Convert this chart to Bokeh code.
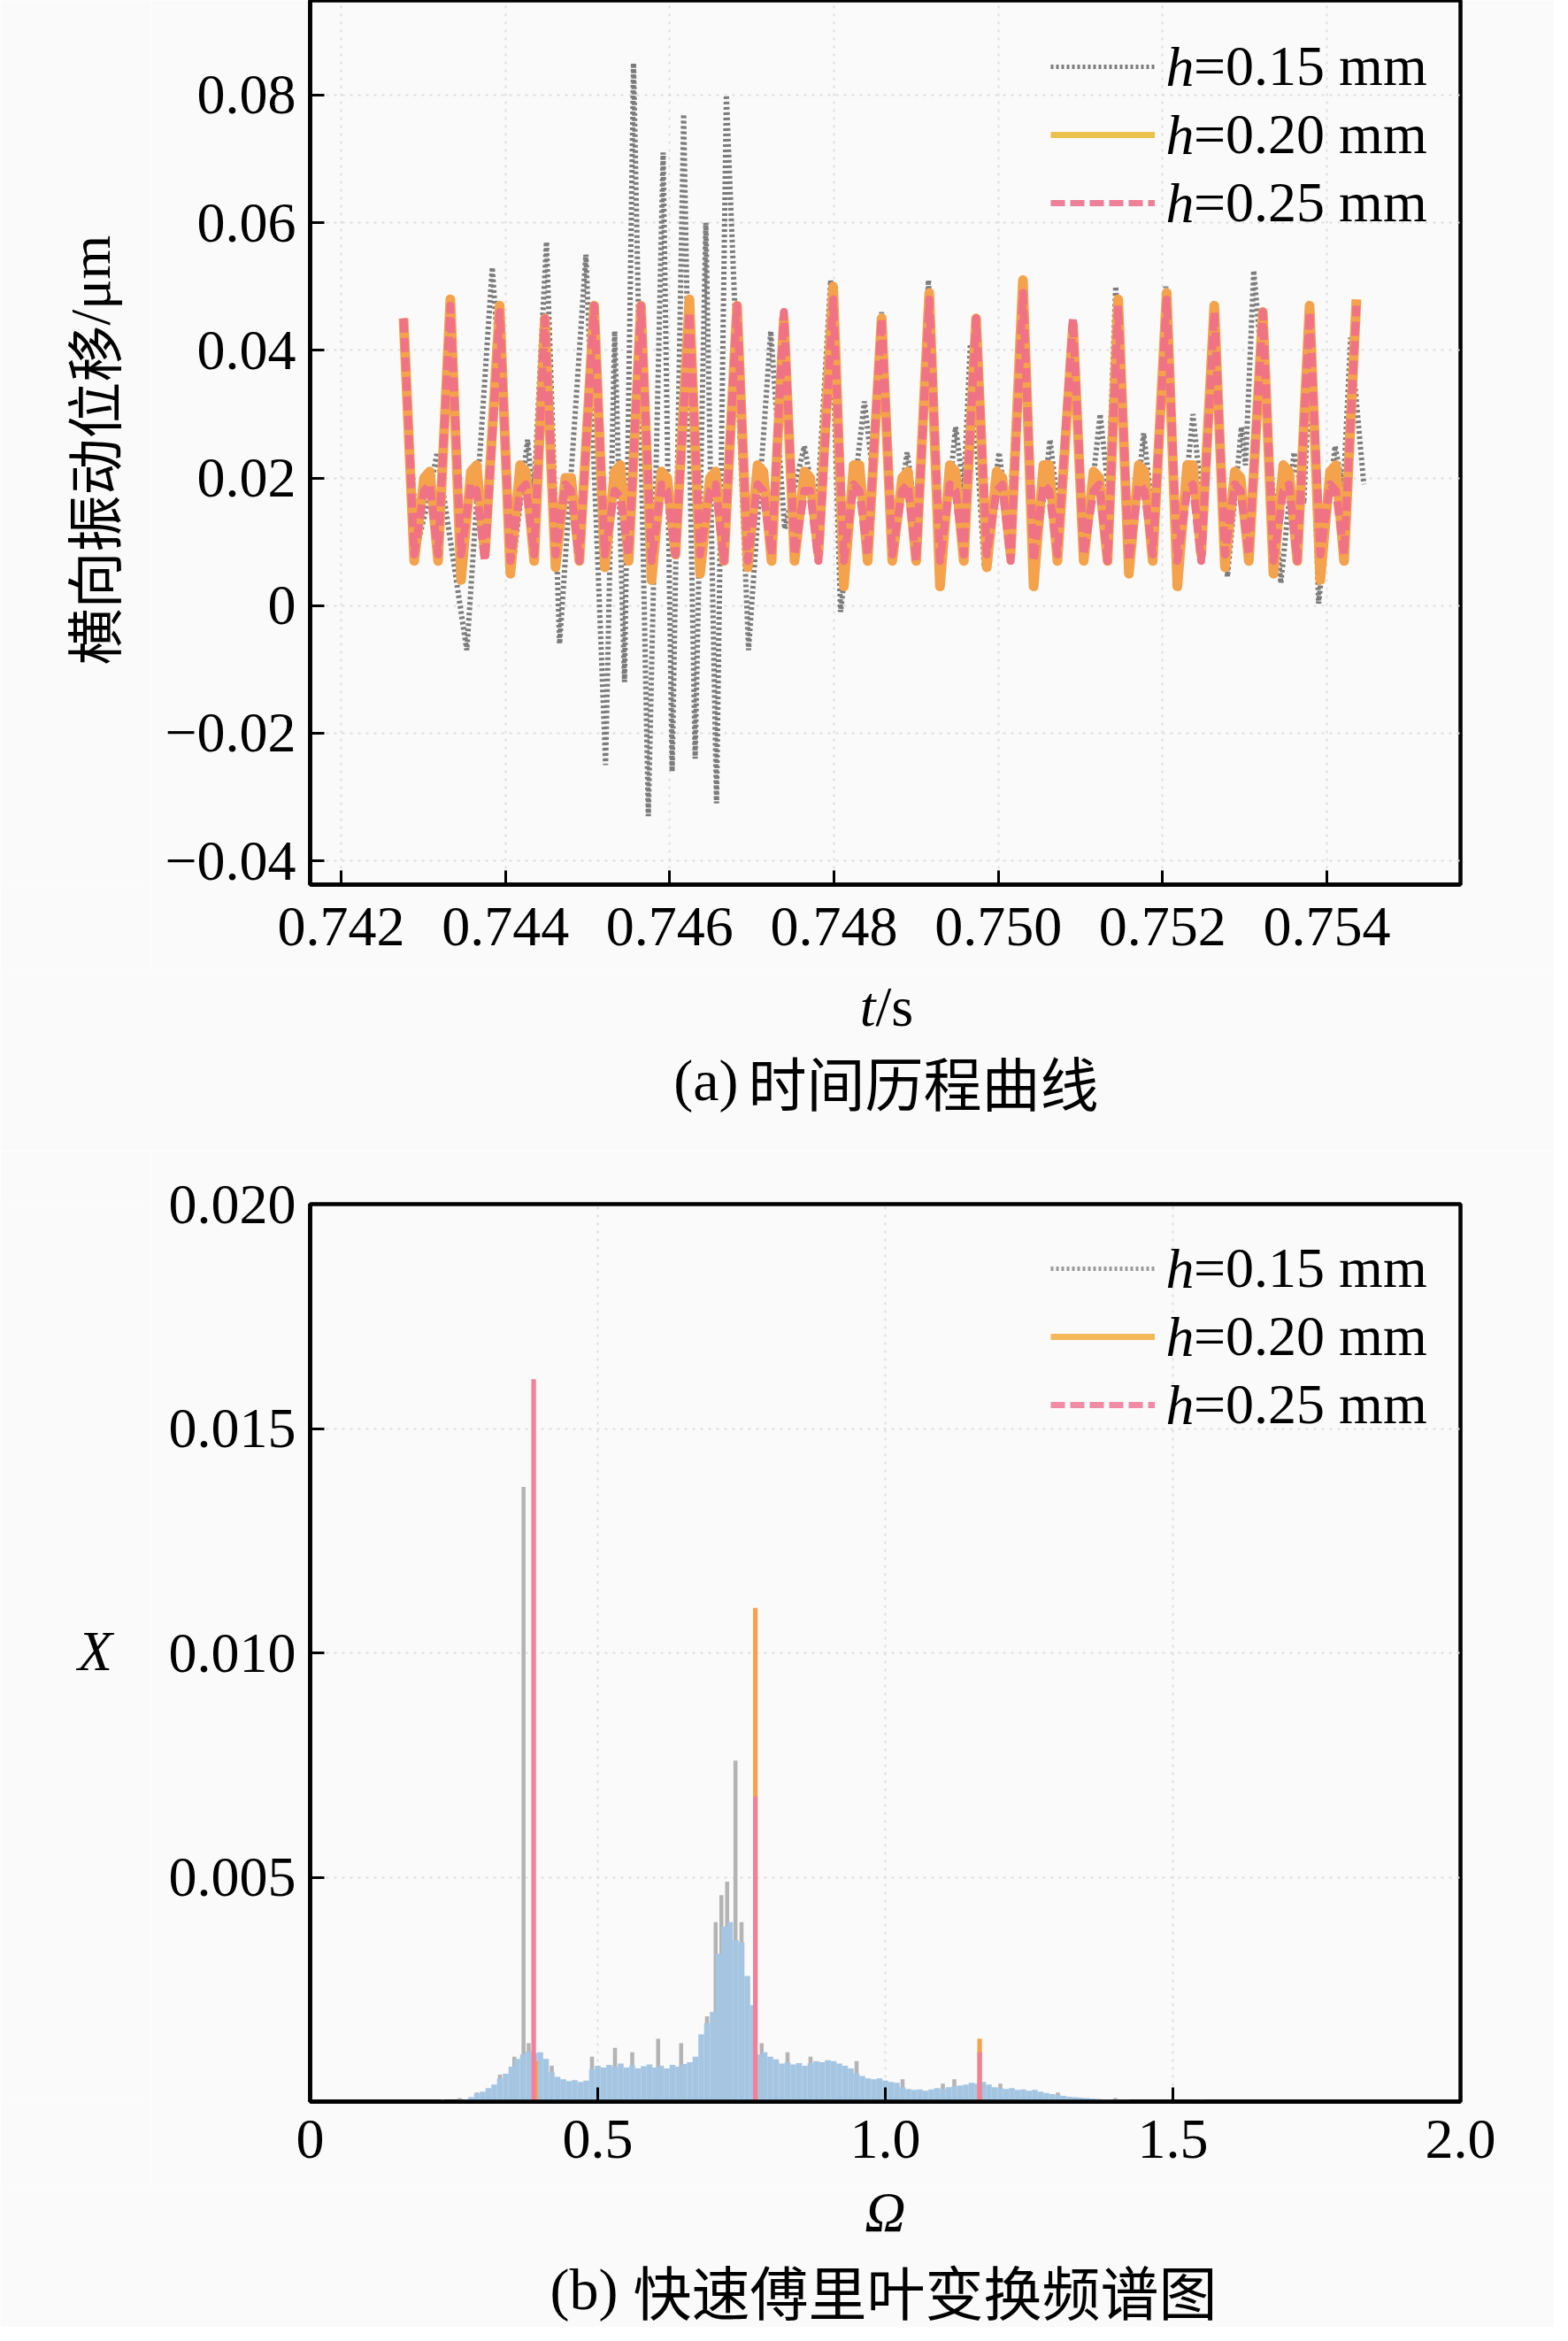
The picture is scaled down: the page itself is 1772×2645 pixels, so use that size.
from math import pi
from bokeh.plotting import figure
from bokeh.models import (Range1d, FixedTicker, Legend, LegendItem, Label,
                          CustomJSTickFormatter)
from bokeh.layouts import column, row
from bokeh.embed import file_html
from bokeh.resources import INLINE

SERIF = "Liberation Serif"
CJK = "Noto Sans CJK SC"
BG = "#fafafa"
NAN = float("nan")

# ---------------- (a) time history ----------------
t_a = [
    0.74276, 0.74289, 0.74301, 0.74308, 0.74318,
    0.74333, 0.74346, 0.74358, 0.74365, 0.74375,
    0.74393, 0.74406, 0.74418, 0.74425, 0.74435,
    0.74448, 0.74461, 0.74473, 0.74480, 0.74490,
    0.74508, 0.74521, 0.74533, 0.74540, 0.74550,
    0.74565, 0.74578, 0.74590, 0.74597, 0.74607,
    0.74624, 0.74637, 0.74649, 0.74656, 0.74666,
    0.74682, 0.74695, 0.74707, 0.74714, 0.74724,
    0.74739, 0.74752, 0.74764, 0.74771, 0.74781,
    0.74799, 0.74812, 0.74824, 0.74831, 0.74841,
    0.74858, 0.74871, 0.74883, 0.74890, 0.74900,
    0.74916, 0.74929, 0.74941, 0.74948, 0.74958,
    0.74973, 0.74986, 0.74998, 0.75005, 0.75015,
    0.75030, 0.75043, 0.75055, 0.75062, 0.75072,
    0.75091, 0.75104, 0.75116, 0.75123, 0.75133,
    0.75146, 0.75159, 0.75171, 0.75178, 0.75188,
    0.75205, 0.75218, 0.75230, 0.75237, 0.75247,
    0.75263, 0.75276, 0.75288, 0.75295, 0.75305,
    0.75322, 0.75335, 0.75347, 0.75354, 0.75364,
    0.75379, 0.75392, 0.75404, 0.75411, 0.75421,
    0.75436,
]
y_020 = [
    0.045, 0.007, 0.020, 0.021, 0.007,
    0.048, 0.004, 0.021, 0.022, 0.008,
    0.047, 0.005, 0.022, 0.021, 0.007,
    0.045, 0.006, 0.020, 0.020, 0.007,
    0.047, 0.006, 0.021, 0.022, 0.007,
    0.047, 0.004, 0.021, 0.020, 0.008,
    0.048, 0.005, 0.020, 0.021, 0.007,
    0.047, 0.006, 0.022, 0.021, 0.007,
    0.045, 0.007, 0.021, 0.020, 0.008,
    0.050, 0.003, 0.022, 0.022, 0.007,
    0.045, 0.007, 0.020, 0.021, 0.007,
    0.049, 0.003, 0.022, 0.021, 0.007,
    0.045, 0.006, 0.021, 0.020, 0.008,
    0.051, 0.003, 0.022, 0.022, 0.007,
    0.044, 0.007, 0.021, 0.020, 0.007,
    0.048, 0.005, 0.022, 0.021, 0.007,
    0.049, 0.003, 0.022, 0.022, 0.008,
    0.047, 0.006, 0.021, 0.020, 0.007,
    0.046, 0.005, 0.022, 0.021, 0.007,
    0.047, 0.004, 0.021, 0.022, 0.007,
    0.048,
]
y_025 = [
    0.045, 0.008, 0.018, 0.019, 0.008,
    0.047, 0.008, 0.019, 0.018, 0.007,
    0.046, 0.007, 0.018, 0.019, 0.008,
    0.045, 0.008, 0.019, 0.018, 0.007,
    0.047, 0.008, 0.018, 0.017, 0.008,
    0.047, 0.007, 0.019, 0.018, 0.008,
    0.046, 0.008, 0.018, 0.019, 0.007,
    0.047, 0.007, 0.019, 0.018, 0.008,
    0.046, 0.008, 0.018, 0.018, 0.007,
    0.048, 0.007, 0.019, 0.018, 0.008,
    0.045, 0.008, 0.018, 0.019, 0.007,
    0.048, 0.007, 0.019, 0.018, 0.008,
    0.045, 0.008, 0.018, 0.019, 0.007,
    0.049, 0.007, 0.019, 0.018, 0.008,
    0.045, 0.008, 0.018, 0.019, 0.007,
    0.047, 0.007, 0.019, 0.018, 0.008,
    0.048, 0.007, 0.018, 0.019, 0.007,
    0.046, 0.008, 0.019, 0.018, 0.008,
    0.046, 0.007, 0.018, 0.019, 0.007,
    0.046, 0.008, 0.019, 0.018, 0.008,
    0.047,
]
t_015 = [
    0.74276, 0.74292, 0.74305, 0.74317, 0.74353, 0.74384, 0.74409, 0.74427,
    0.74434, 0.74450, 0.74466, 0.74498, 0.74522, 0.74533, 0.74545, 0.74556,
    0.74574, 0.74592, 0.74603, 0.74617, 0.74631, 0.74644, 0.74657, 0.74669,
    0.74696, 0.74723, 0.74740, 0.74764, 0.74779, 0.74796, 0.74808, 0.74837,
    0.74846, 0.74858, 0.74872, 0.74889, 0.74902, 0.74915, 0.74931, 0.74948,
    0.74958, 0.74966, 0.74983, 0.75001, 0.75013, 0.75029, 0.75044, 0.75063,
    0.75075, 0.75090, 0.75105, 0.75124, 0.75134, 0.75143, 0.75160, 0.75177,
    0.75190, 0.75204, 0.75219, 0.75237, 0.75248, 0.75262, 0.75279, 0.75296,
    0.75301, 0.75311, 0.75344, 0.75360, 0.75372, 0.75380, 0.75390, 0.75410,
    0.75420, 0.75429, 0.75445,
]
y_015 = [
    0.045, 0.009, 0.016, 0.024, -0.007, 0.053, 0.006, 0.026,
    0.016, 0.057, -0.006, 0.055, -0.025, 0.043, -0.012, 0.085,
    -0.033, 0.071, -0.026, 0.077, -0.024, 0.060, -0.031, 0.080,
    -0.007, 0.043, 0.012, 0.025, 0.014, 0.051, -0.001, 0.032,
    0.022, 0.046, 0.008, 0.024, 0.012, 0.051, 0.005, 0.028,
    0.018, 0.041, 0.006, 0.024, 0.012, 0.050, 0.004, 0.026,
    0.013, 0.043, 0.007, 0.030, 0.018, 0.050, 0.005, 0.027,
    0.012, 0.050, 0.006, 0.030, 0.016, 0.047, 0.0045, 0.028,
    0.022, 0.0525, 0.0035, 0.024, 0.016, 0.040, 0.0003, 0.025,
    0.018, 0.042, 0.019,
]
xt_a = [0.742, 0.744, 0.746, 0.748, 0.750, 0.752, 0.754]
xl_a = ["0.742", "0.744", "0.746", "0.748", "0.750", "0.752", "0.754"]
yt_a = [-0.04, -0.02, 0.0, 0.02, 0.04, 0.06, 0.08]
yl_a = ["\u22120.04", "\u22120.02", "0", "0.02", "0.04", "0.06", "0.08"]
labels_h = ["=0.15 mm", "=0.20 mm", "=0.25 mm"]

# ---------------- (b) FFT spectrum ----------------
omega_bb = [
    0.25, 0.26, 0.27, 0.28, 0.29, 0.30, 0.31, 0.32, 0.33, 0.34,
    0.35, 0.36, 0.37, 0.38, 0.39, 0.40, 0.41, 0.42, 0.43, 0.44,
    0.45, 0.46, 0.47, 0.48, 0.49, 0.50, 0.51, 0.52, 0.53, 0.54,
    0.55, 0.56, 0.57, 0.58, 0.59, 0.60, 0.61, 0.62, 0.63, 0.64,
    0.65, 0.66, 0.67, 0.68, 0.69, 0.70, 0.71, 0.72, 0.73, 0.74,
    0.75, 0.76, 0.77, 0.78, 0.79, 0.80, 0.81, 0.82, 0.83, 0.84,
    0.85, 0.86, 0.87, 0.88, 0.89, 0.90, 0.91, 0.92, 0.93, 0.94,
    0.95, 0.96, 0.97, 0.98, 0.99, 1.00, 1.01, 1.02, 1.03, 1.04,
    1.05, 1.06, 1.07, 1.08, 1.09, 1.10, 1.11, 1.12, 1.13, 1.14,
    1.15, 1.16, 1.17, 1.18, 1.19, 1.20, 1.21, 1.22, 1.23, 1.24,
    1.25, 1.26, 1.27, 1.28, 1.29, 1.30, 1.31, 1.32, 1.33, 1.34,
    1.35, 1.36, 1.37, 1.38, 1.39, 1.40, 1.41, 1.42, 1.43, 1.44,
    1.45, 1.46, 1.47, 1.48, 1.49, 1.50, 1.51, 1.52, 1.53, 1.54,
    1.55,
]
x_bb = [
    0.00002, 0.00003, 0.00005, 0.00010, 0.00018, 0.00022, 0.00030, 0.00038, 0.00052, 0.00062,
    0.00078, 0.00095, 0.00105, 0.00112, 0.00108, 0.00110, 0.00095, 0.00065, 0.00055, 0.00050,
    0.00046, 0.00048, 0.00044, 0.00047, 0.00072, 0.00080, 0.00076, 0.00082, 0.00078, 0.00085,
    0.00076, 0.00081, 0.00074, 0.00079, 0.00083, 0.00076, 0.00080, 0.00074, 0.00082, 0.00078,
    0.00084, 0.00088, 0.00100, 0.00150, 0.00175, 0.00200, 0.00330, 0.00390, 0.00400, 0.00360,
    0.00355, 0.00280, 0.00215, 0.00105, 0.00110, 0.00100, 0.00094, 0.00085, 0.00088, 0.00083,
    0.00086, 0.00080, 0.00086, 0.00090, 0.00088, 0.00092, 0.00090, 0.00085, 0.00080, 0.00074,
    0.00063, 0.00057, 0.00052, 0.00050, 0.00052, 0.00047, 0.00044, 0.00042, 0.00032, 0.00028,
    0.00026, 0.00027, 0.00024, 0.00027, 0.00030, 0.00028, 0.00032, 0.00034, 0.00036, 0.00038,
    0.00042, 0.00040, 0.00044, 0.00038, 0.00032, 0.00030, 0.00028, 0.00030, 0.00026, 0.00027,
    0.00024, 0.00026, 0.00022, 0.00019, 0.00017, 0.00015, 0.00013, 0.00011, 0.00010, 0.00009,
    0.00008, 0.00007, 0.00006, 0.00005, 0.00005, 0.00004, 0.00004, 0.00004, 0.00003, 0.00003,
    0.00003, 0.00003, 0.00002, 0.00002, 0.00002, 0.00002, 0.00002, 0.00001, 0.00001, 0.00001,
    0.00001,
]
omega_015 = [0.20, 0.23, 0.26, 0.29, 0.33, 0.355, 0.371, 0.38, 0.42, 0.49, 0.53, 0.56,
             0.605, 0.645, 0.69, 0.705, 0.715, 0.725, 0.7395, 0.75, 0.785, 0.83, 0.87,
             0.95, 1.03, 1.10, 1.12, 1.20, 1.30, 1.40, 1.55]
x_015 = [0.00003, 0.00005, 0.00008, 0.0002, 0.0006, 0.0010, 0.0137, 0.0013, 0.0008, 0.0010,
         0.0012, 0.0011, 0.0014, 0.0013, 0.0019, 0.0040, 0.0046, 0.0049, 0.0076, 0.0040,
         0.0013, 0.0011, 0.0010, 0.0009, 0.0005, 0.0004, 0.0005, 0.0004, 0.0002, 0.00008,
         0.00004]
omega_020 = [0.392, 0.774, 1.164]
x_020 = [0.0009, 0.0110, 0.0014]
omega_025 = [0.3886, 0.774, 1.164]
x_025 = [0.0161, 0.0068, 0.0011]
xt_b = [0.0, 0.5, 1.0, 1.5, 2.0]
xl_b = ["0", "0.5", "1.0", "1.5", "2.0"]
yt_b = [0.005, 0.010, 0.015, 0.020]
yl_b = ["0.005", "0.010", "0.015", "0.020"]

C_GRAY = "#7c7c7c"
C_ORANGE = "#f5a24c"
C_PINK = "#ef7384"
C_BLUE = "#a5c6e3"


def fmt(ticks, labels):
    return CustomJSTickFormatter(args=dict(t=ticks, l=labels), code="""
        let b = 0, d = 1e9;
        for (let i = 0; i < t.length; i++) { const e = Math.abs(t[i] - tick); if (e < d) { d = e; b = i } }
        return l[b];""")


def style(p, xt, xl, yt, yl, xstand):
    p.background_fill_color = BG
    p.border_fill_color = BG
    p.outline_line_color = "black"
    p.outline_line_width = 4.5
    p.xaxis.ticker = FixedTicker(ticks=xt)
    p.yaxis.ticker = FixedTicker(ticks=yt)
    p.xaxis.formatter = fmt(xt, xl)
    p.yaxis.formatter = fmt(yt, yl)
    for ax in (p.xaxis[0], p.yaxis[0]):
        ax.axis_line_width = 4.5
        ax.axis_line_color = "black"
        ax.major_tick_in = 16
        ax.major_tick_out = 0
        ax.major_tick_line_width = 3
        ax.minor_tick_in = 0
        ax.minor_tick_out = 0
        ax.major_label_text_font = SERIF
        ax.major_label_text_font_size = "64px"
        ax.major_label_text_color = "black"
    p.xaxis.major_label_standoff = xstand
    p.yaxis.major_label_standoff = 16
    p.grid.grid_line_color = "#dedede"
    p.grid.grid_line_dash = "3 6"
    p.grid.grid_line_width = 2


def lab(p, text, x, y, font, size="64px", style="normal", align="center", angle=0.0):
    p.add_layout(Label(x=x, y=y, x_units="screen", y_units="screen", text=text,
                       text_font=font, text_font_size=size, text_font_style=style,
                       text_align=align, text_baseline="middle", angle=angle,
                       text_color="black"))


def text_fig(w, h):
    f = figure(width=w, height=h, output_backend="svg", toolbar_location=None,
               x_range=Range1d(0, 1), y_range=Range1d(0, 1),
               x_axis_location=None, y_axis_location=None, min_border=0)
    f.grid.visible = False
    f.outline_line_color = None
    f.background_fill_color = BG
    f.border_fill_color = BG
    return f


def legend(p, specs, loc, rows_y):
    rs = [p.line([NAN], [NAN], line_color=c, line_width=w, line_dash=d) for c, w, d in specs]
    leg = Legend(items=[LegendItem(label=l, renderers=[r]) for l, r in zip(labels_h, rs)],
                 location=loc, orientation="vertical", glyph_width=118, glyph_height=74,
                 label_height=74, spacing=3, padding=0, label_standoff=44, margin=0,
                 border_line_color=None, background_fill_alpha=0.0,
                 label_text_font=SERIF, label_text_font_size="64px",
                 label_text_color="black")
    p.add_layout(leg)
    for y in rows_y:
        lab(p, "h", loc[0] + 118 + 44, y, SERIF, style="italic", align="right")


YLW = 170          # width of the y-label strip
PW = 1756 - YLW    # width of each plot figure

# ---- figure (a): frame from page y 8 to 1007, x 358 to 1658
H1 = 1099
p1 = figure(width=PW, height=H1, output_backend="svg", toolbar_location=None,
            x_range=Range1d(0.741623, 0.755627), y_range=Range1d(-0.04374, 0.09484),
            min_border_left=180, min_border_right=106, min_border_top=0,
            min_border_bottom=100)
style(p1, xt_a, xl_a, yt_a, yl_a, 26)
p1.line(t_015, y_015, line_color=C_GRAY, line_width=6, line_dash="3 3")
p1.line(t_a, y_020, line_color=C_ORANGE, line_width=11, line_join="round")
p1.line(t_a, y_025, line_color=C_PINK, line_width=9, line_dash="16 6", line_join="round")
legend(p1, [(C_GRAY, 5, "3 3"), ("#ebc24e", 7, "solid"), ("#ee7f98", 7, "16 6")],
       (837, 733), [924, 847, 770])

# y-label strip: its frame lines up with p1's frame (page y 8..1007)
yl1 = text_fig(YLW, H1)
lab(yl1, "横向振动位移", 102, 632, CJK, align="right", angle=pi / 2)
lab(yl1, "/μm", 102, 632, SERIF, align="left", angle=pi / 2)

XL1 = 201
xl1 = text_fig(1756, XL1)
lab(xl1, "t", 989, 163, SERIF, style="italic", align="right")
lab(xl1, "/s", 989, 163, SERIF, align="left")
lab(xl1, "(a)", 834, 80, SERIF, size="66px", align="right")
lab(xl1, "时间历程曲线", 845, 80, CJK, size="66px", align="left")

# ---- figure (b): frame from page y 1368 to 2382
H2 = 1169
p2 = figure(width=PW, height=H2, output_backend="svg", toolbar_location=None,
            x_range=Range1d(0, 2.0), y_range=Range1d(0, 0.020),
            min_border_left=180, min_border_right=106, min_border_top=60,
            min_border_bottom=95)
style(p2, xt_b, xl_b, yt_b, yl_b, 21)
p2.vbar(x=omega_015, top=x_015, bottom=0, width=0.007, fill_color="#b4b4b4", line_color=None)
p2.vbar(x=omega_bb, top=x_bb, bottom=0, width=0.0101, fill_color=C_BLUE, line_color=None)
p2.vbar(x=omega_020, top=x_020, bottom=0, width=0.008, fill_color=C_ORANGE, line_color=None)
p2.vbar(x=omega_025, top=x_025, bottom=0, width=0.008, fill_color="#f2809a", line_color=None)
legend(p2, [("#9a9a9a", 5, "3 3"), ("#f4b85a", 7, "solid"), ("#f08aa5", 7, "16 6")],
       (837, 750), [941, 864, 787])

yl2 = text_fig(YLW, H2)
lab(yl2, "X", 107, 509, SERIF, style="italic")

XL2 = 160
xl2 = text_fig(1756, XL2)
lab(xl2, "Ω", 1000, 130, SERIF, style="italic")
lab(xl2, "(b)", 698, 43, SERIF, size="66px", align="right")
lab(xl2, "快速傅里叶变换频谱图", 715, 43, CJK, size="66px", align="left")

page = column(row(yl1, p1, spacing=0), xl1, row(yl2, p2, spacing=0), xl2, spacing=0)
open("out.html", "w").write(file_html(page, INLINE))
